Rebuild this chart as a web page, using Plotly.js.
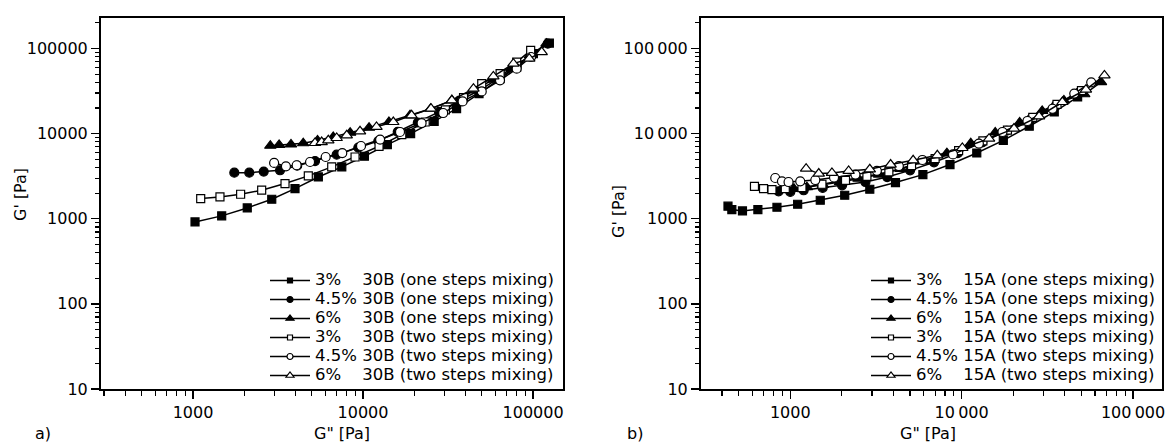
<!DOCTYPE html>
<html>
<head>
<meta charset="utf-8">
<script src="https://cdn.plot.ly/plotly-3.0.1.min.js"></script>
<style>
  html, body { margin: 0; padding: 0; background: #fff; }
  #chart { width: 1166px; height: 442px; }
</style>
</head>
<body>
<div id="chart"></div>
<script>
// ---------- Panel a) : 30B ----------
const a_3_one_x  = [1028, 1475, 2085, 2905, 3980, 5460, 7500, 10190, 13900, 19050, 26200, 35500, 48100, 64000, 80100, 100400, 124700];
const a_3_one_y  = [917, 1080, 1340, 1695, 2260, 3095, 4060, 5420, 7430, 10000, 13930, 19640, 29500, 44200, 60500, 86900, 115600];
const a_45_one_x = [1750, 2143, 2606, 3250, 4100, 5220, 7000, 9380, 12300, 16000, 21000, 28000, 37000, 48000, 62000, 80000, 100000, 122000];
const a_45_one_y = [3480, 3480, 3580, 3710, 4200, 4760, 5660, 6850, 8190, 10500, 13500, 18000, 24500, 32000, 44000, 61000, 86000, 114000];
const a_6_one_x  = [2850, 3210, 3770, 4450, 5400, 6680, 8400, 10850, 14200, 18900, 25000, 33300, 44600, 58400, 75000, 95900, 120000];
const a_6_one_y  = [7200, 7350, 7450, 7700, 8300, 9120, 10260, 11750, 13680, 16400, 19600, 24600, 32200, 43000, 58000, 83000, 113700];
const a_3_two_x  = [1110, 1441, 1906, 2535, 3477, 4766, 6543, 8975, 12420, 16900, 23200, 30500, 39000, 49900, 64000, 80100, 96800];
const a_3_two_y  = [1725, 1803, 1940, 2163, 2590, 3186, 4060, 5310, 7097, 9730, 13680, 19000, 26500, 38600, 50600, 69200, 95100];
const a_45_two_x = [3000, 3520, 4070, 4880, 6030, 7550, 9730, 12600, 16500, 22100, 29600, 38500, 49900, 63900, 80100, 97200];
const a_45_two_y = [4520, 4130, 4250, 4640, 5310, 5910, 7150, 8510, 10450, 13300, 17450, 23900, 31300, 42300, 57900, 79400];
const a_6_two_x  = [5220, 5710, 6250, 7000, 8020, 9600, 12000, 15070, 19300, 25100, 33300, 44600, 58400, 76600, 95000, 112400];
const a_6_two_y  = [7760, 7960, 8340, 8880, 9540, 10640, 11970, 13680, 16400, 19640, 24600, 33700, 47000, 66400, 75800, 90800];

// ---------- Panel b) : 15A ----------
const b_3_one_x  = [433, 456, 526, 647, 836, 1104, 1496, 2078, 2910, 4110, 5940, 8550, 12250, 17500, 24800, 34700, 47500];
const b_3_one_y  = [1403, 1282, 1235, 1282, 1365, 1480, 1648, 1888, 2220, 2660, 3300, 4330, 5920, 8340, 12200, 17950, 26900];
const b_45_one_x = [855, 1000, 1197, 1545, 2005, 2745, 3675, 5000, 6900, 9500, 13200, 18300, 25500, 35500, 49000];
const b_45_one_y = [2100, 2065, 2160, 2300, 2470, 2700, 3090, 3700, 4600, 5900, 7900, 10800, 15000, 21500, 31000];
const b_6_one_x  = [900, 1050, 1250, 1550, 1950, 2500, 3300, 4400, 6000, 8200, 11300, 15700, 21800, 29500, 39500, 51900, 65000];
const b_6_one_y  = [2300, 2250, 2350, 2500, 2700, 2950, 3300, 3850, 4700, 5900, 7700, 10300, 13500, 18500, 24500, 29000, 40300];
const b_3_two_x  = [618, 698, 782, 935, 1170, 1530, 2100, 2800, 3760, 5100, 7000, 9600, 13300, 18500, 26000, 36000, 50000];
const b_3_two_y  = [2400, 2260, 2200, 2260, 2320, 2540, 2830, 3150, 3550, 4200, 5100, 6300, 8200, 11000, 15500, 22000, 32000];
const b_45_two_x = [817, 894, 977, 1143, 1400, 1800, 2400, 3200, 4300, 5900, 8900, 12600, 17300, 24200, 33900, 45400, 57000];
const b_45_two_y = [3010, 2750, 2700, 2750, 2850, 3050, 3300, 3650, 4150, 4900, 5700, 7640, 10450, 14070, 19600, 29500, 40000];
const b_6_two_x  = [1237, 1466, 1750, 2190, 2910, 3850, 5210, 7210, 10090, 14450, 20200, 28300, 38700, 53100, 68100];
const b_6_two_y  = [3880, 3390, 3450, 3640, 3810, 4330, 4860, 5560, 6780, 8730, 11450, 15960, 23500, 32800, 48300];

// ---------- labels ----------
const conc = ["3%", "4.5%", "6%", "3%", "4.5%", "6%"];
const mixing = ["(one steps mixing)", "(one steps mixing)", "(one steps mixing)",
                "(two steps mixing)", "(two steps mixing)", "(two steps mixing)"];
const clayA = "30B", clayB = "15A";
const ytickVals = [10, 100, 1000, 10000, 100000];
const ytickTextA = ["10", "100", "1000", "10000", "100000"];
const ytickTextB = ["10", "100", "1000", "10\u2009000", "100\u2009000"];
const xtickVals = [1000, 10000, 100000];
const xtickTextA = ["1000", "10000", "100000"];
const xtickTextB = ["1000", "10\u2009000", "100\u2009000"];
const yTitle = "G' [Pa]", xTitle = "G\" [Pa]";

const symbols = ["square", "circle", "triangle-up", "square", "circle", "triangle-up"];
const sizes = [8, 9, 10, 8, 9, 10];
const legSizes = [5, 6, 7, 5, 6, 7];
const filled = [true, true, true, false, false, false];

function pad(c) { return c === "4.5%" ? c + "\u00a0" : c + "\u00a0\u00a0\u00a0\u00a0"; }

function markerOf(i, s) {
  return { symbol: symbols[i], size: s, color: filled[i] ? "black" : "white",
           line: { color: "black", width: 1.2 } };
}
function mk(i, x, y, xa, ya) {
  return {
    type: "scatter", mode: "lines+markers", x: x, y: y, xaxis: xa, yaxis: ya,
    showlegend: false, hoverinfo: "skip",
    line: { color: "black", width: 1.5 },
    marker: markerOf(i, sizes[i])
  };
}
// legend-only entries (no data drawn) so legend symbols can be small like the original
function leg(i, clay, xa, ya, lg) {
  return {
    type: "scatter", mode: "lines+markers", x: [null], y: [null], xaxis: xa, yaxis: ya, legend: lg,
    name: '<span style="font-size:16.5px">' + pad(conc[i]) + clay + " " + mixing[i] + "</span>",
    line: { color: "black", width: 1.5 },
    marker: markerOf(i, legSizes[i])
  };
}

const dataA = [[a_3_one_x, a_3_one_y], [a_45_one_x, a_45_one_y], [a_6_one_x, a_6_one_y],
               [a_3_two_x, a_3_two_y], [a_45_two_x, a_45_two_y], [a_6_two_x, a_6_two_y]];
const dataB = [[b_3_one_x, b_3_one_y], [b_45_one_x, b_45_one_y], [b_6_one_x, b_6_one_y],
               [b_3_two_x, b_3_two_y], [b_45_two_x, b_45_two_y], [b_6_two_x, b_6_two_y]];

const traces = [];
dataA.forEach((d, i) => traces.push(mk(i, d[0], d[1], "x", "y")));
dataB.forEach((d, i) => traces.push(mk(i, d[0], d[1], "x2", "y2")));
dataA.forEach((d, i) => traces.push(leg(i, clayA, "x", "y", "legend")));
dataB.forEach((d, i) => traces.push(leg(i, clayB, "x2", "y2", "legend2")));

const F = "DejaVu Sans, sans-serif";
function xax(dom, rng, txt, anchor) {
  return {
    type: "log", domain: dom, range: rng, anchor: anchor,
    tickmode: "array", tickvals: xtickVals, ticktext: txt,
    ticks: "outside", ticklen: 8, tickwidth: 1.5, tickcolor: "black",
    minor: { ticks: "outside", ticklen: 5, tickwidth: 1.2, tickcolor: "black", dtick: "D1", showgrid: false },
    showline: true, linewidth: 2, linecolor: "black", mirror: true,
    showgrid: false, zeroline: false,
    tickfont: { family: F, size: 16, color: "black" }
  };
}
function yax(rng, txt, anchor) {
  return {
    type: "log", domain: [0, 1], range: rng, anchor: anchor,
    tickmode: "array", tickvals: ytickVals, ticktext: txt,
    ticks: "outside", ticklen: 8, tickwidth: 1.5, tickcolor: "black",
    minor: { ticks: "outside", ticklen: 4, tickwidth: 1.2, tickcolor: "black", dtick: "D1", showgrid: false },
    showline: true, linewidth: 2, linecolor: "black", mirror: true,
    showgrid: false, zeroline: false,
    tickfont: { family: F, size: 16, color: "black" }
  };
}

const W = 1166, H = 442, mt = 18, mb = 53;
const ph = H - mt - mb;
function px(x) { return x / W; }
function py(y) { return (H - mb - y) / ph; }

const layout = {
  width: W, height: H,
  margin: { l: 0, r: 0, t: mt, b: mb, pad: 0 },
  paper_bgcolor: "white", plot_bgcolor: "white",
  font: { family: F, size: 16, color: "black" },
  showlegend: true,
  xaxis: xax([px(101), px(563)], [2.459, 5.176], xtickTextA, "y"),
  yaxis: yax([1, 5.358], ytickTextA, "x"),
  xaxis2: xax([px(701), px(1162)], [2.479, 5.169], xtickTextB, "y2"),
  yaxis2: yax([1, 5.358], ytickTextB, "x2"),
  legend: { x: px(560), y: py(390), xanchor: "right", yanchor: "bottom",
            bgcolor: "rgba(0,0,0,0)", font: { family: F, size: 12, color: "black" },
            itemwidth: 40, tracegroupgap: 0 },
  legend2: { x: px(1160), y: py(390), xanchor: "right", yanchor: "bottom",
             bgcolor: "rgba(0,0,0,0)", font: { family: F, size: 12, color: "black" },
             itemwidth: 40, tracegroupgap: 0 },
  annotations: [
    { text: yTitle, xref: "paper", yref: "paper", x: px(20), y: py(195), textangle: -90,
      showarrow: false, xanchor: "center", yanchor: "middle", font: { family: F, size: 16 } },
    { text: yTitle, xref: "paper", yref: "paper", x: px(618), y: py(212), textangle: -90,
      showarrow: false, xanchor: "center", yanchor: "middle", font: { family: F, size: 16 } },
    { text: xTitle, xref: "paper", yref: "paper", x: px(342), y: py(433),
      showarrow: false, xanchor: "center", yanchor: "middle", font: { family: F, size: 16 } },
    { text: xTitle, xref: "paper", yref: "paper", x: px(928), y: py(433),
      showarrow: false, xanchor: "center", yanchor: "middle", font: { family: F, size: 16 } },
    { text: "a)", xref: "paper", yref: "paper", x: px(43), y: py(433),
      showarrow: false, xanchor: "center", yanchor: "middle", font: { family: F, size: 16 } },
    { text: "b)", xref: "paper", yref: "paper", x: px(635), y: py(433),
      showarrow: false, xanchor: "center", yanchor: "middle", font: { family: F, size: 16 } }
  ]
};

Plotly.newPlot("chart", traces, layout, { staticPlot: true, displayModeBar: false });
</script>
</body>
</html>
